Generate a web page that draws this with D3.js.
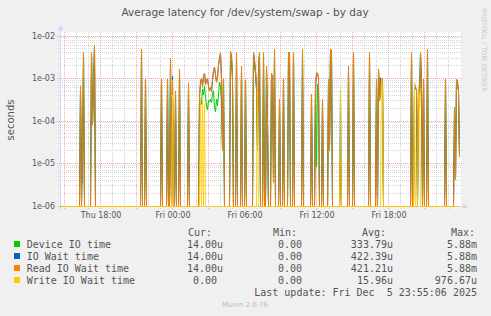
<!DOCTYPE html>
<html><head><meta charset="utf-8">
<script src="https://cdn.jsdelivr.net/npm/d3@7"></script>
<style>
html,body{margin:0;padding:0;background:#f0f0f0;}
svg{display:block;}
</style></head><body>
<svg id="chart" width="491" height="316"></svg>
<script>
// ---------- DATA ----------
const title = "Average latency for /dev/system/swap - by day";
const yTickValues = [1e-6, 1e-5, 1e-4, 1e-3, 1e-2];
const yTickLabels = ["1e-06", "1e-05", "1e-04", "1e-03", "1e-02"];
const xTickTimes = ["Thu 18:00", "Fri 00:00", "Fri 06:00", "Fri 12:00", "Fri 18:00"];
const xTickLabels = ["Thu 18:00", "Fri 00:00", "Fri 06:00", "Fri 12:00", "Fri 18:00"];
const rangeStart = "Thu 14:40";
const rangeEnd = "Sat 00:00";

const readWait = [
 ["Thu 14:40",0],["Thu 16:15",0],["Thu 16:20",6.3e-4],["Thu 16:25",0],["Thu 16:30",1.4e-5],["Thu 16:35",3.9e-3],["Thu 16:40",0],
 ["Thu 17:10",0],["Thu 17:15",3.9e-3],["Thu 17:20",8e-5],["Thu 17:25",7e-4],["Thu 17:30",5.88e-3],["Thu 17:35",0],
 ["Thu 21:20",0],["Thu 21:25",4.8e-3],["Thu 21:30",0],["Thu 21:40",0],["Thu 21:45",9.4e-4],["Thu 21:50",0],
 ["Thu 23:00",0],["Thu 23:05",9.4e-4],["Thu 23:10",0],["Thu 23:30",0],["Thu 23:35",9.4e-4],["Thu 23:40",0],["Thu 23:45",0],["Thu 23:50",2.9e-3],["Thu 23:55",0],
 ["Fri 00:00",9e-4],["Fri 00:05",0],["Fri 00:10",0],["Fri 00:15",4.8e-4],["Fri 00:20",0],["Fri 00:30",0],["Fri 00:35",1.6e-3],["Fri 00:40",0],
 ["Fri 01:15",0],["Fri 01:20",7.6e-4],["Fri 01:25",0],
 ["Fri 02:10",0],["Fri 02:15",3.7e-4],["Fri 02:20",7.6e-4],["Fri 02:25",1.0e-3],["Fri 02:30",6.0e-4],["Fri 02:35",1.1e-3],["Fri 02:40",1.3e-3],
 ["Fri 02:45",7.0e-4],["Fri 02:50",8.5e-4],["Fri 02:55",1.0e-3],["Fri 03:00",6.5e-4],["Fri 03:05",5.0e-4],["Fri 03:10",6.0e-4],["Fri 03:15",4.8e-4],
 ["Fri 03:20",9.0e-4],["Fri 03:25",1.5e-3],["Fri 03:30",1.8e-3],["Fri 03:35",1.2e-3],["Fri 03:40",8.0e-4],["Fri 03:45",1.0e-3],["Fri 03:50",2.0e-3],
 ["Fri 03:55",2.9e-3],["Fri 04:00",3.9e-3],["Fri 04:05",1.0e-3],["Fri 04:10",2e-5],["Fri 04:15",1.0e-3],["Fri 04:20",0],
 ["Fri 04:45",0],["Fri 04:50",4.2e-3],["Fri 04:55",3.0e-3],["Fri 05:00",1.0e-3],["Fri 05:05",0],["Fri 05:15",0],["Fri 05:20",3.9e-3],["Fri 05:25",0],
 ["Fri 05:40",0],["Fri 05:45",1.9e-3],["Fri 05:50",0],["Fri 06:00",0],["Fri 06:05",9e-4],["Fri 06:10",0],
 ["Fri 06:40",0],["Fri 06:45",3.9e-3],["Fri 06:50",2.4e-3],["Fri 06:55",1.5e-3],["Fri 07:00",5.5e-4],["Fri 07:05",2e-5],["Fri 07:10",1.5e-3],["Fri 07:15",3.9e-3],["Fri 07:20",0],
 ["Fri 07:30",0],["Fri 07:35",3.9e-3],["Fri 07:40",0],["Fri 07:45",0],["Fri 07:50",1.9e-3],["Fri 07:55",8e-5],["Fri 08:00",0],
 ["Fri 08:10",0],["Fri 08:15",1.3e-3],["Fri 08:20",9e-4],["Fri 08:25",3.4e-6],["Fri 08:30",4.8e-3],["Fri 08:35",0],
 ["Fri 08:50",0],["Fri 08:55",3.1e-4],["Fri 09:00",0],["Fri 09:10",0],["Fri 09:15",9.4e-4],["Fri 09:20",0],
 ["Fri 09:35",0],["Fri 09:40",3.9e-3],["Fri 09:45",3.9e-3],["Fri 09:50",0],["Fri 10:00",0],["Fri 10:05",3.9e-3],["Fri 10:10",0],
 ["Fri 10:45",0],["Fri 10:50",4.8e-3],["Fri 10:55",0],["Fri 11:30",0],["Fri 11:35",4.2e-4],["Fri 11:40",0],
 ["Fri 11:50",0],["Fri 11:55",6.3e-4],["Fri 12:00",1.3e-3],["Fri 12:05",1.3e-3],["Fri 12:10",1.0e-3],["Fri 12:15",0],
 ["Fri 12:25",0],["Fri 12:30",3.2e-4],["Fri 12:35",0],
 ["Fri 12:55",0],["Fri 13:00",9.4e-4],["Fri 13:05",2e-5],["Fri 13:10",4.8e-3],["Fri 13:15",4.2e-3],["Fri 13:20",0],
 ["Fri 13:55",0],["Fri 14:00",1.5e-5],["Fri 14:05",0],["Fri 14:35",0],["Fri 14:40",1.9e-3],["Fri 14:45",0],
 ["Fri 15:00",0],["Fri 15:05",3.9e-3],["Fri 15:10",0],["Fri 16:20",0],["Fri 16:25",3.9e-3],["Fri 16:30",0],
 ["Fri 16:55",0],["Fri 17:00",9.4e-4],["Fri 17:05",0],["Fri 17:10",1.6e-3],["Fri 17:15",3e-4],["Fri 17:20",5e-4],["Fri 17:25",9.4e-4],["Fri 17:30",9.4e-4],["Fri 17:35",0],
 ["Fri 19:50",0],["Fri 19:55",3.9e-3],["Fri 20:00",0],["Fri 20:05",0],["Fri 20:10",6e-4],["Fri 20:15",5.5e-4],["Fri 20:20",5.5e-4],["Fri 20:25",0],
 ["Fri 20:30",4e-4],["Fri 20:35",2e-4],["Fri 20:40",3.9e-3],["Fri 20:45",6e-4],["Fri 20:50",0],["Fri 20:55",9.4e-4],["Fri 21:00",0],
 ["Fri 21:10",0],["Fri 21:15",4.8e-3],["Fri 21:20",0],["Fri 22:40",0],["Fri 22:45",9.4e-4],["Fri 22:50",0],
 ["Fri 23:25",0],["Fri 23:30",2e-4],["Fri 23:35",4e-6],["Fri 23:40",9.4e-4],["Fri 23:45",7.6e-4],["Fri 23:50",5e-4],["Fri 23:55",1.4e-5]
];

const ioWait = [
 ["Thu 14:40",0],["Thu 16:15",0],["Thu 16:20",6.3e-4],["Thu 16:25",0],["Thu 16:30",1.4e-5],["Thu 16:35",3.9e-3],["Thu 16:40",0],
 ["Thu 17:10",0],["Thu 17:15",3.9e-3],["Thu 17:20",8e-5],["Thu 17:25",7e-4],["Thu 17:30",5.88e-3],["Thu 17:35",0],
 ["Thu 21:20",0],["Thu 21:25",4.8e-3],["Thu 21:30",0],["Thu 21:40",0],["Thu 21:45",9.4e-4],["Thu 21:50",0],
 ["Thu 23:00",0],["Thu 23:05",9.4e-4],["Thu 23:10",0],["Thu 23:30",0],["Thu 23:35",9.4e-4],["Thu 23:40",0],["Thu 23:45",0],["Thu 23:50",2.9e-3],["Thu 23:55",0],
 ["Fri 00:00",1.1e-3],["Fri 00:05",0],["Fri 00:10",0],["Fri 00:15",4.8e-4],["Fri 00:20",0],["Fri 00:30",0],["Fri 00:35",1.6e-3],["Fri 00:40",0],
 ["Fri 01:15",0],["Fri 01:20",7.6e-4],["Fri 01:25",0],
 ["Fri 02:10",0],["Fri 02:15",3.7e-4],["Fri 02:20",8.0e-4],["Fri 02:25",1.0e-3],["Fri 02:30",6.5e-4],["Fri 02:35",1.1e-3],["Fri 02:40",1.3e-3],
 ["Fri 02:45",7.0e-4],["Fri 02:50",8.5e-4],["Fri 02:55",1.0e-3],["Fri 03:00",6.5e-4],["Fri 03:05",5.0e-4],["Fri 03:10",6.0e-4],["Fri 03:15",4.8e-4],
 ["Fri 03:20",9.0e-4],["Fri 03:25",1.5e-3],["Fri 03:30",1.8e-3],["Fri 03:35",1.2e-3],["Fri 03:40",8.0e-4],["Fri 03:45",1.0e-3],["Fri 03:50",2.0e-3],
 ["Fri 03:55",2.9e-3],["Fri 04:00",3.9e-3],["Fri 04:05",1.0e-3],["Fri 04:10",2e-5],["Fri 04:15",1.0e-3],["Fri 04:20",0],
 ["Fri 04:45",0],["Fri 04:50",4.2e-3],["Fri 04:55",3.0e-3],["Fri 05:00",1.0e-3],["Fri 05:05",0],["Fri 05:15",0],["Fri 05:20",3.9e-3],["Fri 05:25",0],
 ["Fri 05:40",0],["Fri 05:45",1.9e-3],["Fri 05:50",0],["Fri 06:00",0],["Fri 06:05",9e-4],["Fri 06:10",0],
 ["Fri 06:40",0],["Fri 06:45",3.9e-3],["Fri 06:50",2.8e-3],["Fri 06:55",1.5e-3],["Fri 07:00",5.5e-4],["Fri 07:05",2e-5],["Fri 07:10",1.5e-3],["Fri 07:15",3.9e-3],["Fri 07:20",0],
 ["Fri 07:30",0],["Fri 07:35",3.9e-3],["Fri 07:40",0],["Fri 07:45",0],["Fri 07:50",1.9e-3],["Fri 07:55",8e-5],["Fri 08:00",0],
 ["Fri 08:10",0],["Fri 08:15",1.3e-3],["Fri 08:20",9e-4],["Fri 08:25",3.4e-6],["Fri 08:30",4.8e-3],["Fri 08:35",0],
 ["Fri 08:50",0],["Fri 08:55",3.1e-4],["Fri 09:00",0],["Fri 09:10",0],["Fri 09:15",9.4e-4],["Fri 09:20",0],
 ["Fri 09:35",0],["Fri 09:40",3.9e-3],["Fri 09:45",3.9e-3],["Fri 09:50",0],["Fri 10:00",0],["Fri 10:05",3.9e-3],["Fri 10:10",0],
 ["Fri 10:45",0],["Fri 10:50",4.8e-3],["Fri 10:55",0],["Fri 11:30",0],["Fri 11:35",4.2e-4],["Fri 11:40",0],
 ["Fri 11:50",0],["Fri 11:55",6.3e-4],["Fri 12:00",1.3e-3],["Fri 12:05",1.3e-3],["Fri 12:10",1.0e-3],["Fri 12:15",0],
 ["Fri 12:25",0],["Fri 12:30",3.2e-4],["Fri 12:35",0],
 ["Fri 12:55",0],["Fri 13:00",9.4e-4],["Fri 13:05",2e-5],["Fri 13:10",4.8e-3],["Fri 13:15",4.2e-3],["Fri 13:20",0],
 ["Fri 13:55",0],["Fri 14:00",5e-4],["Fri 14:05",0],["Fri 14:35",0],["Fri 14:40",1.9e-3],["Fri 14:45",0],
 ["Fri 15:00",0],["Fri 15:05",3.9e-3],["Fri 15:10",0],["Fri 16:20",0],["Fri 16:25",3.9e-3],["Fri 16:30",0],
 ["Fri 16:55",0],["Fri 17:00",9.4e-4],["Fri 17:05",0],["Fri 17:10",1.6e-3],["Fri 17:15",3e-4],["Fri 17:20",1.0e-3],["Fri 17:25",9.8e-4],["Fri 17:30",9.4e-4],["Fri 17:35",0],
 ["Fri 19:50",0],["Fri 19:55",3.9e-3],["Fri 20:00",0],["Fri 20:05",0],["Fri 20:10",7.6e-4],["Fri 20:15",5.5e-4],["Fri 20:20",5.5e-4],["Fri 20:25",0],
 ["Fri 20:30",6.5e-4],["Fri 20:35",4e-4],["Fri 20:40",3.9e-3],["Fri 20:45",6e-4],["Fri 20:50",0],["Fri 20:55",9.4e-4],["Fri 21:00",0],
 ["Fri 21:10",0],["Fri 21:15",4.8e-3],["Fri 21:20",0],["Fri 22:40",0],["Fri 22:45",9.4e-4],["Fri 22:50",0],
 ["Fri 23:25",0],["Fri 23:30",2e-4],["Fri 23:35",4e-6],["Fri 23:40",9.4e-4],["Fri 23:45",7.6e-4],["Fri 23:50",5e-4],["Fri 23:55",1.4e-5]
];

const deviceIO = [
 ["Thu 14:40",0],["Thu 16:15",0],["Thu 16:20",6.3e-4],["Thu 16:25",1.4e-5],["Thu 16:30",3.4e-6],["Thu 16:35",3.9e-3],["Thu 16:40",0],
 ["Thu 17:10",0],["Thu 17:15",3.9e-3],["Thu 17:20",8e-5],["Thu 17:25",7e-4],["Thu 17:30",5.88e-3],["Thu 17:35",0],
 ["Thu 21:20",0],["Thu 21:25",4.8e-3],["Thu 21:30",0],["Thu 21:40",0],["Thu 21:45",9.4e-4],["Thu 21:50",0],
 ["Thu 23:00",0],["Thu 23:05",9.4e-4],["Thu 23:10",0],["Thu 23:30",0],["Thu 23:35",9.4e-4],["Thu 23:40",0],["Thu 23:45",0],["Thu 23:50",2.9e-3],["Thu 23:55",0],
 ["Fri 00:00",9e-4],["Fri 00:05",0],["Fri 00:10",0],["Fri 00:15",4.8e-4],["Fri 00:20",0],["Fri 00:30",0],["Fri 00:35",1.6e-3],["Fri 00:40",0],
 ["Fri 01:15",0],["Fri 01:20",7.6e-4],["Fri 01:25",0],
 ["Fri 02:10",0],["Fri 02:15",2.8e-4],["Fri 02:20",3.0e-4],["Fri 02:25",2.4e-4],["Fri 02:30",5.5e-4],["Fri 02:35",4.0e-4],["Fri 02:40",6.5e-4],
 ["Fri 02:45",3.5e-4],["Fri 02:50",2.2e-4],["Fri 02:55",1.8e-4],["Fri 03:00",3.0e-4],["Fri 03:05",2.8e-4],["Fri 03:10",3.2e-4],["Fri 03:15",2.6e-4],
 ["Fri 03:20",4.5e-4],["Fri 03:25",5.0e-4],["Fri 03:30",2.0e-4],["Fri 03:35",1.6e-4],["Fri 03:40",3.2e-4],["Fri 03:45",2.2e-4],["Fri 03:50",4.0e-4],
 ["Fri 03:55",8.0e-4],["Fri 04:00",6.0e-4],["Fri 04:05",3.0e-4],["Fri 04:10",2e-5],["Fri 04:15",1.0e-3],["Fri 04:20",0],
 ["Fri 04:45",0],["Fri 04:50",4.2e-3],["Fri 04:55",3.0e-3],["Fri 05:00",1.0e-3],["Fri 05:05",0],["Fri 05:15",0],["Fri 05:20",3.9e-3],["Fri 05:25",0],
 ["Fri 05:40",0],["Fri 05:45",1.9e-3],["Fri 05:50",0],["Fri 06:00",0],["Fri 06:05",9e-4],["Fri 06:10",0],
 ["Fri 06:40",0],["Fri 06:45",3.9e-3],["Fri 06:50",1.8e-3],["Fri 06:55",1.2e-3],["Fri 07:00",5.5e-4],["Fri 07:05",2e-5],["Fri 07:10",1.6e-3],["Fri 07:15",3.9e-3],["Fri 07:20",0],
 ["Fri 07:30",0],["Fri 07:35",3.9e-3],["Fri 07:40",0],["Fri 07:45",0],["Fri 07:50",1.9e-3],["Fri 07:55",8e-5],["Fri 08:00",0],
 ["Fri 08:10",0],["Fri 08:15",1.3e-3],["Fri 08:20",9e-4],["Fri 08:25",3.4e-6],["Fri 08:30",4.8e-3],["Fri 08:35",0],
 ["Fri 08:50",0],["Fri 08:55",3.1e-4],["Fri 09:00",0],["Fri 09:10",0],["Fri 09:15",9.4e-4],["Fri 09:20",0],
 ["Fri 09:35",0],["Fri 09:40",3.9e-3],["Fri 09:45",3.9e-3],["Fri 09:50",0],["Fri 10:00",0],["Fri 10:05",3.9e-3],["Fri 10:10",0],
 ["Fri 10:45",0],["Fri 10:50",4.8e-3],["Fri 10:55",0],["Fri 11:30",0],["Fri 11:35",4.2e-4],["Fri 11:40",0],
 ["Fri 11:50",0],["Fri 11:55",6.3e-4],["Fri 12:00",8e-6],["Fri 12:05",7e-4],["Fri 12:10",6e-4],["Fri 12:15",0],
 ["Fri 12:25",0],["Fri 12:30",3.2e-4],["Fri 12:35",0],
 ["Fri 12:55",0],["Fri 13:00",9.4e-4],["Fri 13:05",2e-5],["Fri 13:10",4.8e-3],["Fri 13:15",4.2e-3],["Fri 13:20",0],
 ["Fri 13:55",0],["Fri 14:00",1.5e-5],["Fri 14:05",0],["Fri 14:35",0],["Fri 14:40",1.9e-3],["Fri 14:45",0],
 ["Fri 15:00",0],["Fri 15:05",3.9e-3],["Fri 15:10",0],["Fri 16:20",0],["Fri 16:25",3.9e-3],["Fri 16:30",0],
 ["Fri 16:55",0],["Fri 17:00",9.4e-4],["Fri 17:05",0],["Fri 17:10",1.6e-3],["Fri 17:15",3e-4],["Fri 17:20",4e-4],["Fri 17:25",9.4e-4],["Fri 17:30",9.4e-4],["Fri 17:35",0],
 ["Fri 19:50",0],["Fri 19:55",3.9e-3],["Fri 20:00",0],["Fri 20:05",0],["Fri 20:10",6e-4],["Fri 20:15",5.5e-4],["Fri 20:20",5.5e-4],["Fri 20:25",0],
 ["Fri 20:30",4e-4],["Fri 20:35",2e-4],["Fri 20:40",3.9e-3],["Fri 20:45",6e-4],["Fri 20:50",0],["Fri 20:55",9.4e-4],["Fri 21:00",0],
 ["Fri 21:10",0],["Fri 21:15",4.8e-3],["Fri 21:20",0],["Fri 22:40",0],["Fri 22:45",9.4e-4],["Fri 22:50",0],
 ["Fri 23:25",0],["Fri 23:30",2e-4],["Fri 23:35",4e-6],["Fri 23:40",9.4e-4],["Fri 23:45",7.6e-4],["Fri 23:50",5e-4],["Fri 23:55",1.4e-5]
];

const writeWait = [
 ["Thu 14:40",0],["Thu 23:55",0],["Fri 00:00",4e-4],["Fri 00:05",0],
 ["Fri 02:15",0],["Fri 02:20",3.5e-4],["Fri 02:25",0],["Fri 02:30",3e-4],["Fri 02:35",0],["Fri 02:40",2.5e-4],["Fri 02:45",0],
 ["Fri 07:00",0],["Fri 07:05",5e-4],["Fri 07:10",0],
 ["Fri 13:55",0],["Fri 14:00",4.9e-4],["Fri 14:05",0],
 ["Fri 17:20",0],["Fri 17:25",9.7667e-4],["Fri 17:30",5e-4],["Fri 17:35",0],
 ["Fri 20:05",0],["Fri 20:10",7.6e-4],["Fri 20:15",0],["Fri 20:25",0],["Fri 20:30",6.5e-4],["Fri 20:35",4e-4],["Fri 20:40",0],
 ["Fri 23:55",0]
];

const seriesNames = ["Device IO time", "IO Wait time", "Read IO Wait time", "Write IO Wait time"];
const seriesColors = ["#00cc00", "#0066b3", "#ff8000", "#ffcc00"];
const curVals = ["14.00u", "14.00u", "14.00u", "0.00"];
const minVals = ["0.00", "0.00", "0.00", "0.00"];
const avgVals = ["333.79u", "422.39u", "421.21u", "15.96u"];
const maxVals = ["5.88m", "5.88m", "5.88m", "976.67u"];
const lastUpdate = "Last update: Fri Dec  5 23:55:06 2025";
const version = "Munin 2.0.76";
const watermark = "RRDTOOL / TOBI OETIKER";
const yLabel = "seconds";

// ---------- DRAW ----------
const dayOf = {Thu: 4, Fri: 5, Sat: 6};
function parseT(s) {
  const [d, hm] = s.split(" ");
  const [h, m] = hm.split(":").map(Number);
  return new Date(2025, 11, dayOf[d], h, m);
}
const svg = d3.select("#chart");
const FONT = "DejaVu Sans, sans-serif";
const MONO = "DejaVu Sans Mono, monospace";
const textColor = "#555";

const X0 = 60, X1 = 460, YB = 206.5, YT = 32;
const x = d3.scaleTime().domain([parseT(rangeStart), parseT(rangeEnd)]).range([X0, X1]);
const y = d3.scaleLog().domain([1e-6, 1e-2]).range([205.5, 35.5]);
const yv = v => (v > 0 ? Math.min(y(v), YB) : YB);

svg.append("rect").attr("width", 491).attr("height", 316).attr("fill", "#f0f0f0");
svg.append("rect").attr("x", X0).attr("y", YT).attr("width", X1 - X0 + 1).attr("height", YB - YT + 0.5).attr("fill", "#ffffff");

// grid
const grid = svg.append("g").attr("shape-rendering", "crispEdges");
const minorH = [];
for (let e = -6; e < -2; e++) for (let m = 2; m <= 9; m++) minorH.push(m * Math.pow(10, e));
grid.selectAll(".mh").data(minorH).enter().append("line")
  .attr("x1", X0 - 2).attr("x2", X1 + 2)
  .attr("y1", d => Math.round(y(d)) + 0.5).attr("y2", d => Math.round(y(d)) + 0.5)
  .attr("stroke", "#d6d6d6").attr("stroke-dasharray", "1,1");
const hours = d3.timeHour.range(parseT("Thu 15:00"), parseT(rangeEnd));
grid.selectAll(".mv").data(hours.filter(h => h.getHours() % 3 !== 0)).enter().append("line")
  .attr("x1", d => Math.round(x(d)) + 0.5).attr("x2", d => Math.round(x(d)) + 0.5)
  .attr("y1", YT).attr("y2", YB + 2)
  .attr("stroke", "#d2d2d2").attr("stroke-dasharray", "1,1");
grid.selectAll(".Mv").data(hours.filter(h => h.getHours() % 3 === 0)).enter().append("line")
  .attr("x1", d => Math.round(x(d)) + 0.5).attr("x2", d => Math.round(x(d)) + 0.5)
  .attr("y1", YT).attr("y2", YB + 3)
  .attr("stroke", "#f2a8a8").attr("stroke-dasharray", "1,1");
grid.selectAll(".Mh").data(yTickValues).enter().append("line")
  .attr("x1", X0 - 3).attr("x2", X1 + 2)
  .attr("y1", d => Math.round(y(d)) + 0.5).attr("y2", d => Math.round(y(d)) + 0.5)
  .attr("stroke", "#f2a8a8").attr("stroke-dasharray", "1,1");

// axes
const axisCol = "#cfd6f8";
svg.append("line").attr("x1", X0 + 0.5).attr("x2", X0 + 0.5).attr("y1", YB + 3).attr("y2", YT - 3)
  .attr("stroke", axisCol).attr("shape-rendering", "crispEdges");
svg.append("path").attr("d", `M${X0 - 2.5},${YT - 2}L${X0 + 3.5},${YT - 2}L${X0 + 0.5},${YT - 7}Z`).attr("fill", axisCol);
svg.append("line").attr("x1", X0 - 3).attr("x2", X1 + 3).attr("y1", YB).attr("y2", YB)
  .attr("stroke", axisCol).attr("shape-rendering", "crispEdges");
svg.append("path").attr("d", `M${X1 + 3},${YB - 3}L${X1 + 3},${YB + 3}L${X1 + 8},${YB}Z`).attr("fill", axisCol);

// series
svg.append("clipPath").attr("id", "plotclip").append("rect")
  .attr("x", X0).attr("y", YT).attr("width", X1 - X0 + 1).attr("height", YB - YT + 1);
const line = d3.line().x(d => x(parseT(d[0])) + 0.5).y(d => yv(d[1]));
const seriesData = [deviceIO, ioWait, readWait, writeWait];
const opac = [1, 1, 0.95, 0.85];
const gS = svg.append("g").attr("clip-path", "url(#plotclip)");
seriesData.forEach((s, i) => {
  gS.append("path").attr("d", line(s)).attr("fill", "none")
    .attr("stroke", seriesColors[i]).attr("stroke-width", 1).attr("stroke-opacity", opac[i]);
});

// y labels
svg.selectAll(".yl").data(yTickValues).enter().append("text")
  .attr("x", 55).attr("y", d => y(d) + 3)
  .attr("text-anchor", "end").attr("font-family", FONT).attr("font-size", 8).attr("fill", textColor)
  .text((d, i) => yTickLabels[i]);
// x labels
svg.selectAll(".xl").data(xTickTimes).enter().append("text")
  .attr("x", d => x(parseT(d)) + 1).attr("y", 218)
  .attr("text-anchor", "middle").attr("font-family", FONT).attr("font-size", 8).attr("fill", textColor)
  .text((d, i) => xTickLabels[i]);

// title
svg.append("text").attr("x", 245).attr("y", 16).attr("text-anchor", "middle")
  .attr("font-family", FONT).attr("font-size", 10.5).attr("fill", textColor).text(title);
// y label
svg.append("text").attr("transform", `translate(14,120) rotate(-90)`).attr("text-anchor", "middle")
  .attr("font-family", FONT).attr("font-size", 10).attr("fill", textColor).text(yLabel);
// watermark
svg.append("text").attr("transform", `translate(482,8) rotate(90)`).attr("text-anchor", "start")
  .attr("font-family", FONT).attr("font-size", 6.5).attr("fill", "#c8c8c8").text(watermark);

// legend
const lg = svg.append("g").attr("font-family", MONO).attr("font-size", 10).attr("fill", textColor);
const cw = 6.02;
[["Cur:", 188], ["Min:", 273], ["Avg:", 362], ["Max:", 451]].forEach(([t, px]) =>
  lg.append("text").attr("x", px).attr("y", 236).text(t));
const cols = [[curVals, 223], [minVals, 308], [avgVals, 393], [maxVals, 477]];
seriesNames.forEach((n, i) => {
  const by = 248 + i * 12;
  svg.append("rect").attr("x", 14).attr("y", by - 7).attr("width", 6).attr("height", 6).attr("fill", seriesColors[i]);
  lg.append("text").attr("x", 26.7).attr("y", by).text(n);
  cols.forEach(([arr, right]) => {
    const s = arr[i];
    const hasUnit = /[a-zA-Z]$/.test(s);
    lg.append("text").attr("x", right - (hasUnit ? 0 : cw)).attr("y", by).attr("text-anchor", "end").text(s);
  });
});
lg.append("text").attr("x", 477).attr("y", 296).attr("text-anchor", "end").attr("xml:space", "preserve")
  .style("white-space", "pre").text(lastUpdate);
svg.append("text").attr("x", 245).attr("y", 307).attr("text-anchor", "middle")
  .attr("font-family", FONT).attr("font-size", 7).attr("fill", "#bbbbbb").text(version);
</script>
</body></html>
